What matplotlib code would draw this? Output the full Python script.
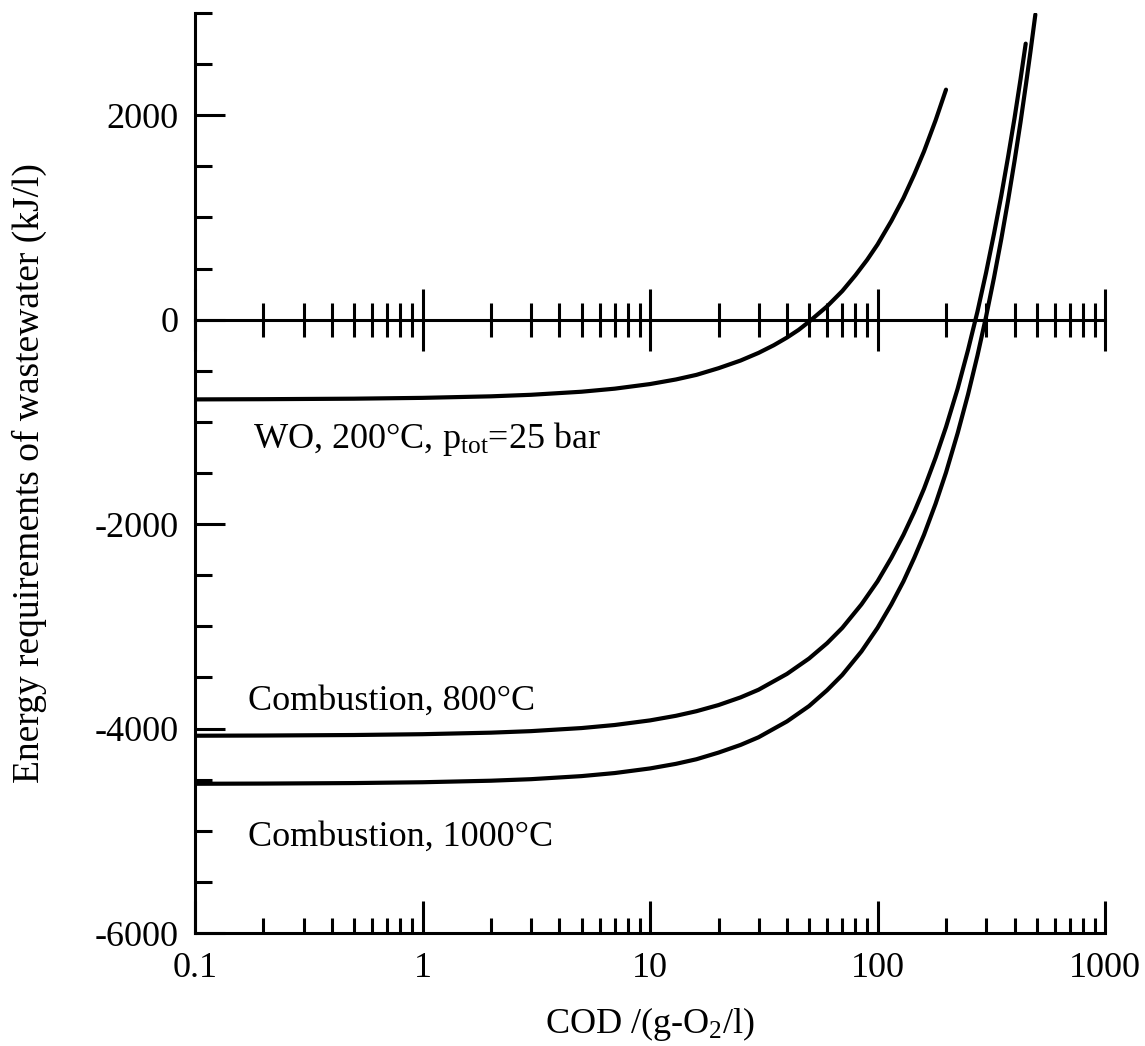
import matplotlib
matplotlib.use('Agg')
import matplotlib.pyplot as plt
from matplotlib.ticker import MultipleLocator

plt.rcParams['font.family'] = ['Liberation Serif', 'DejaVu Serif']
plt.rcParams['mathtext.fontset'] = 'custom'
plt.rcParams['mathtext.rm'] = 'Liberation Serif'
plt.rcParams['mathtext.it'] = 'Liberation Serif:italic'
plt.rcParams['axes.unicode_minus'] = False

# values (COD in g-O2/l, energy in kJ/l)
cod_wo = [0.1, 0.2, 0.5, 1, 2, 3, 5, 7, 10, 13, 16, 20, 25, 30, 35, 40, 45, 50,
          60, 70, 80, 90, 100, 115, 130, 145, 160, 180, 200]
e_wo = [-780, -778, -773, -765, -750, -735, -705, -675, -630, -585, -540, -475,
        -400, -325, -250, -175, -100, -20, 130, 280, 435, 585, 735, 965, 1190,
        1420, 1645, 1950, 2250]

cod_800 = [0.1, 0.2, 0.5, 1, 2, 3, 5, 7, 10, 13, 16, 20, 25, 30, 40, 50, 60, 70,
           85, 100, 115, 130, 145, 160, 180, 200, 225, 250, 275, 300, 325, 350,
           375, 400, 425, 448]
e_800 = [-4070, -4068, -4063, -4055, -4040, -4025, -3995, -3965, -3920, -3875,
         -3830, -3770, -3695, -3620, -3465, -3315, -3165, -3015, -2785, -2560,
         -2330, -2105, -1880, -1655, -1350, -1050, -675, -295, 80, 460, 840,
         1215, 1595, 1970, 2350, 2700]

cod_1000 = [0.1, 0.2, 0.5, 1, 2, 3, 5, 7, 10, 13, 16, 20, 25, 30, 40, 50, 60, 70,
            85, 100, 115, 130, 145, 160, 180, 200, 225, 250, 275, 300, 325, 350,
            375, 400, 425, 450, 470, 494]
e_1000 = [-4540, -4538, -4533, -4525, -4510, -4495, -4465, -4435, -4390, -4345,
          -4300, -4235, -4160, -4085, -3930, -3780, -3625, -3475, -3245, -3015,
          -2785, -2560, -2330, -2105, -1800, -1495, -1110, -730, -350, 30, 410,
          790, 1170, 1550, 1930, 2315, 2620, 2985]

x_ticks = [0.1, 1, 10, 100, 1000]
x_labels = ['0.1', '1', '10', '100', '1000']
y_ticks = [-6000, -4000, -2000, 0, 2000]

fig = plt.figure(figsize=(11.45, 10.46), dpi=100)
ax = fig.add_axes([0.1703, 0.108, 0.7948, 0.8796])

for xs, ys in [(cod_wo, e_wo), (cod_800, e_800), (cod_1000, e_1000)]:
    ax.plot(xs, ys, color='black', lw=3, solid_capstyle='round')

ax.set_xscale('log')
ax.set_xlim(0.1, 1000)
ax.set_ylim(-6000, 3000)
ax.set_xticks(x_ticks, labels=x_labels)
ax.set_yticks(y_ticks)
ax.yaxis.set_minor_locator(MultipleLocator(500))

for side in ['top', 'right']:
    ax.spines[side].set_visible(False)
for side in ['left', 'bottom']:
    ax.spines[side].set_linewidth(2.2)

ax.tick_params(axis='both', which='both', direction='in', width=2.2, labelsize=26)
ax.tick_params(axis='y', which='major', length=21.5, pad=12)
ax.tick_params(axis='y', which='minor', length=12)
ax.tick_params(axis='x', which='major', length=23, pad=14)
ax.tick_params(axis='x', which='minor', length=11)

# zero line with crossing log ticks
zero_axis = ax.secondary_xaxis(2 / 3)
zero_axis.tick_params(axis='x', which='both', direction='inout', width=2.2,
                      labeltop=False, labelbottom=False)
zero_axis.tick_params(axis='x', which='major', length=45)
zero_axis.tick_params(axis='x', which='minor', length=24.5)
for sp in zero_axis.spines.values():
    sp.set_linewidth(2.2)

ax.text(0.18, -1260, r'WO, 200°C, p$_{\mathrm{tot}}$=25 bar', fontsize=26, va='baseline')
ax.text(0.171, -3815, 'Combustion, 800°C', fontsize=26, va='baseline')
ax.text(0.171, -5150, 'Combustion, 1000°C', fontsize=26, va='baseline')

ax.set_xlabel(r'COD /(g-O$_2$/l)', fontsize=26, labelpad=14)
ax.set_ylabel('Energy requirements of wastewater (kJ/l)', fontsize=27)
ax.yaxis.set_label_coords(-0.163, 0.5)

fig.savefig('out.png', dpi=100)
